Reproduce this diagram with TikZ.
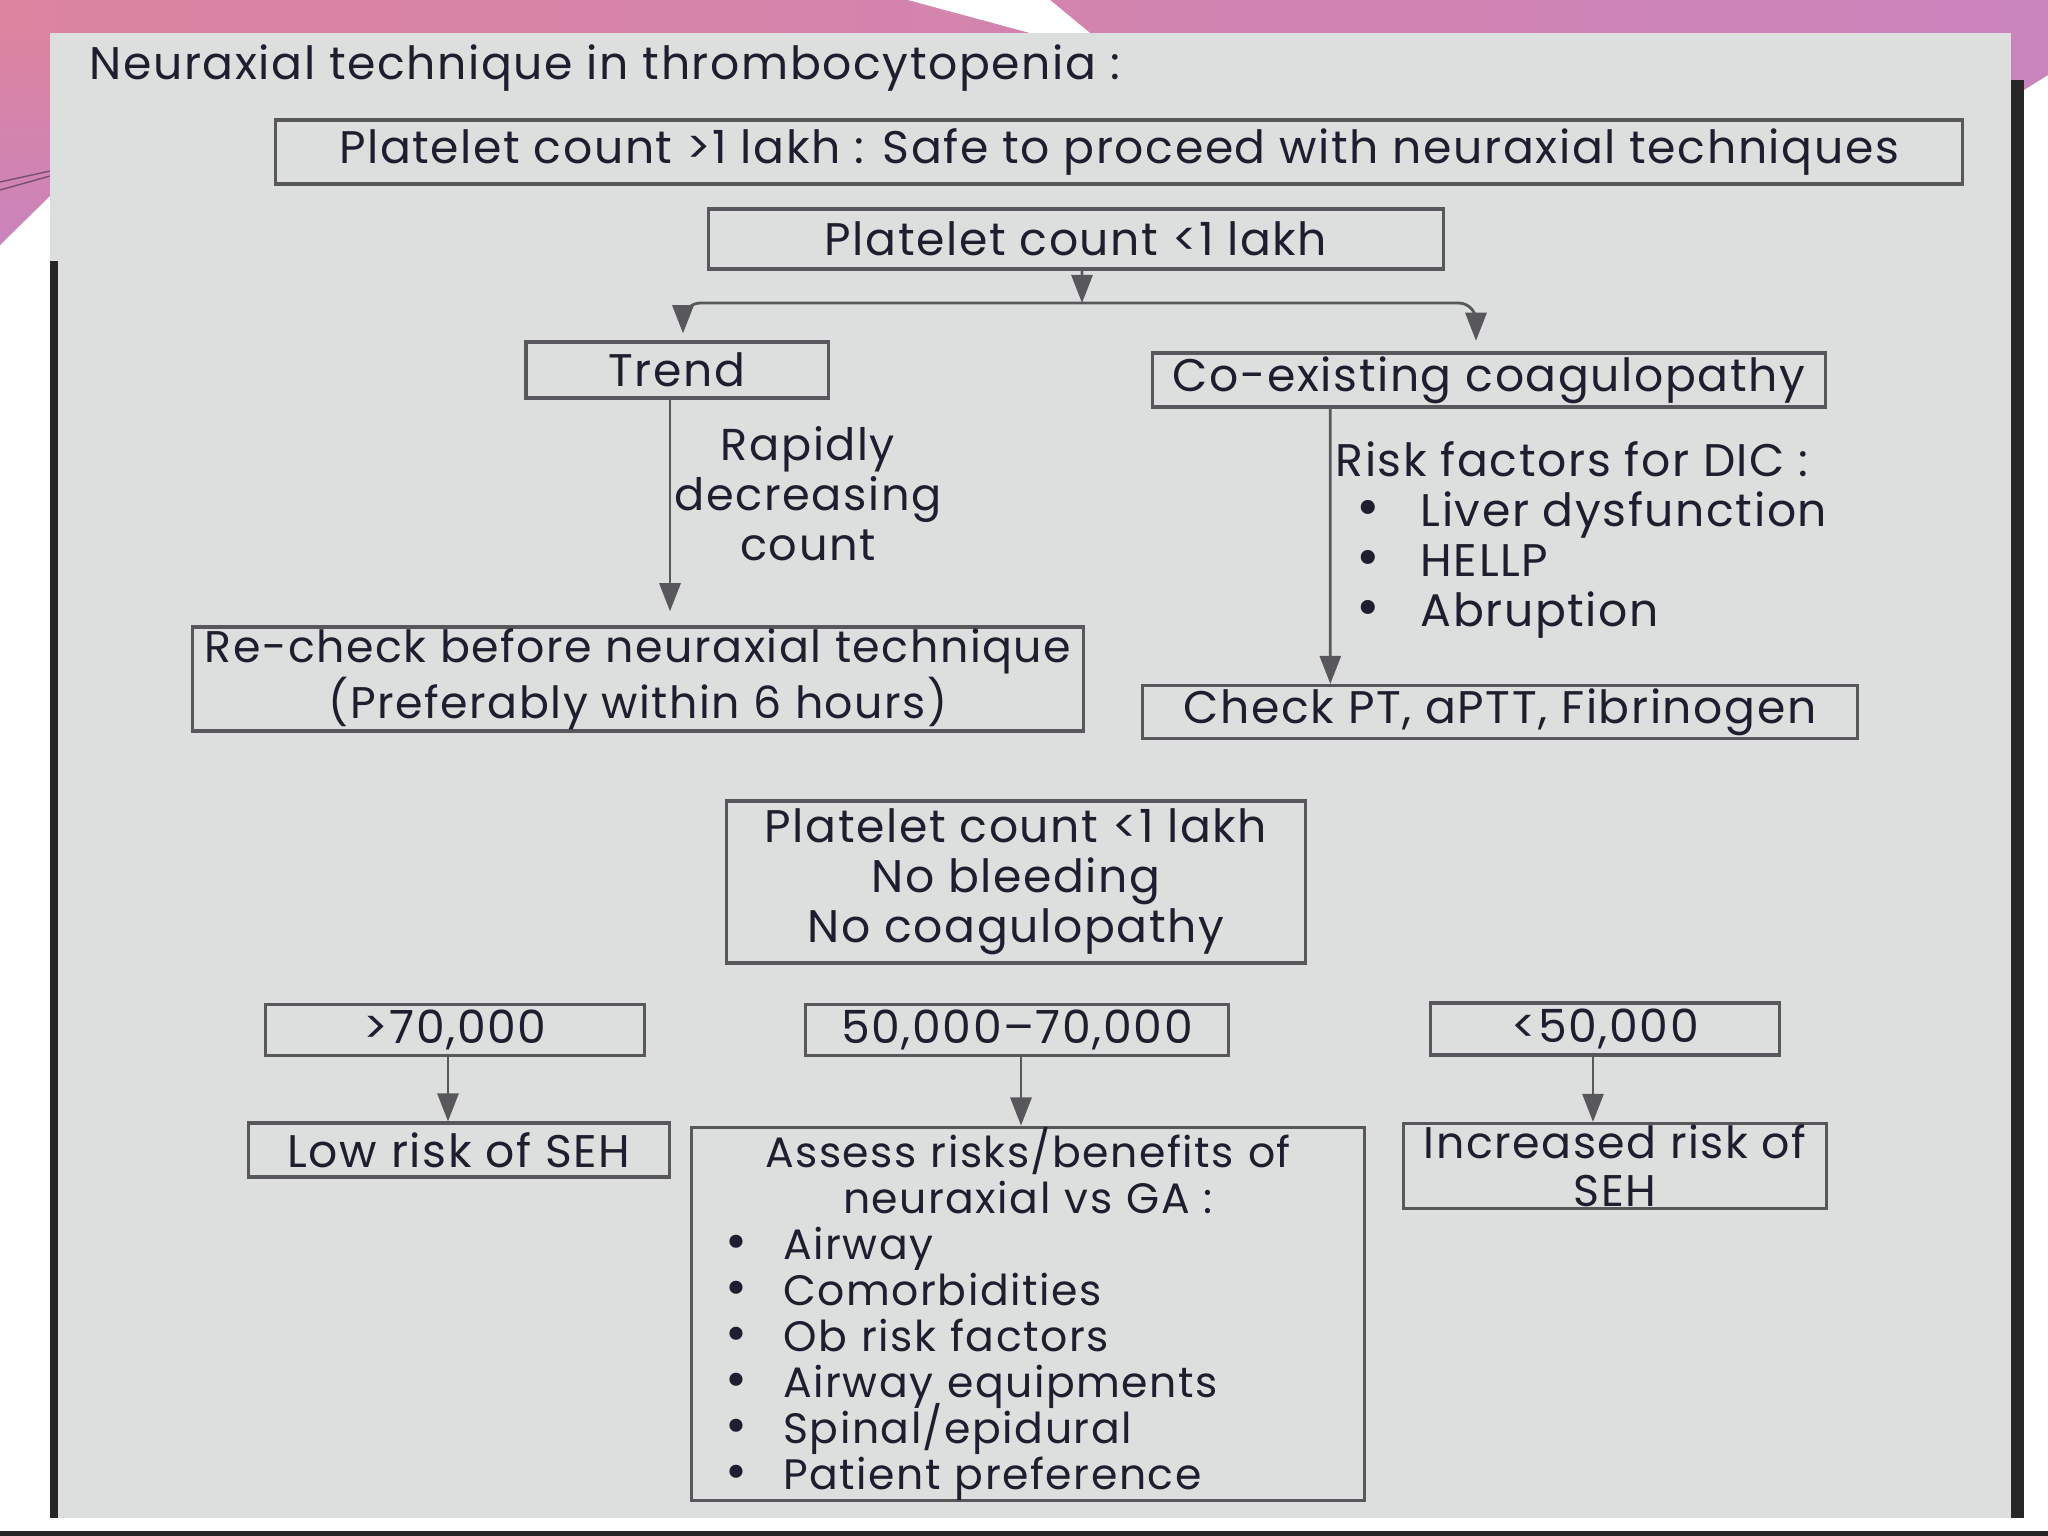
\documentclass[tikz,border=0pt]{standalone}
\usepackage{fontspec}
\setmainfont{Poppins}[LetterSpace=3.5]
\usepackage{xcolor}
\definecolor{papercolor}{RGB}{221,223,223}
\definecolor{linecolor}{RGB}{88,88,92}
\definecolor{inkcolor}{RGB}{30,30,46}
\definecolor{slidepink}{RGB}{220,132,160}
\definecolor{slidemauve}{RGB}{202,132,188}
\usetikzlibrary{arrows.meta, positioning, calc}

\newcommand{\dotrow}[3]{\hspace*{#1}\makebox[#2][l]{\scalebox{1.25}{\textbullet}}#3}

\begin{document}
\begin{tikzpicture}[x=0.01cm, y=-0.01cm,
    every node/.style={font=\fontsize{13}{14.2}\selectfont, text=inkcolor},
    flowbox/.style={rectangle, draw=linecolor, line width=0.9pt, align=center, inner sep=0pt},
    flowarrow/.style={draw=linecolor, line width=0.8pt, -{Triangle[length=8pt, width=6pt]}}
]
    % slide and photographed page
    \useasboundingbox (0,0) rectangle (2048,1536);
    \fill[white] (0,0) rectangle (2048,1536);
    \shade[left color=slidepink, right color=slidemauve] (0,0) rectangle (2048,33);
    \fill[white] (908,0) -- (1050,0) -- (1090,33) -- (1030,33) -- cycle;
    \shade[top color=slidepink, bottom color=slidemauve] (0,33) -- (50,33) -- (50,196) -- (0,245) -- cycle;
    \draw[slidemauve!60!black, line width=0.4pt] (0,182) -- (50,171) (0,190) -- (50,176);
    \fill[slidemauve] (2011,33) -- (2048,33) -- (2048,75) -- (2011,98) -- cycle;
    \fill[papercolor] (50,33) rectangle (2011,1518);
    \fill[black!85] (50,261) rectangle (58,1518);
    \fill[black!85] (2011,80) rectangle (2024,1518);
    \fill[black!85] (0,1531) rectangle (2048,1536);

    \node[anchor=west, inner sep=0pt] (title) at (89,68) {Neuraxial technique in thrombocytopenia :};

    \node[flowbox, minimum width=16.86cm, minimum height=0.64cm] (safe) at (1119,152)
        {Platelet count >1 lakh : Safe to proceed with neuraxial techniques};
    \node[flowbox, minimum width=7.34cm, minimum height=0.60cm] (below) at (1076,239)
        {Platelet count <1 lakh};
    \coordinate (fork) at (1082,303);

    \node[flowbox, minimum width=3.02cm, minimum height=0.56cm] (trend) at (677,370) {Trend};
    \node[flowbox, minimum width=6.72cm, minimum height=0.54cm] (coag) at (1489,380)
        {Co-existing coagulopathy};

    \node[align=center, inner sep=0pt, font=\fontsize{12.7}{14.2}\selectfont] (rapid) at (808,494)
        {Rapidly\\decreasing\\count};
    \node[flowbox, minimum width=8.90cm, minimum height=1.04cm, font=\fontsize{12.6}{14.6}\selectfont]
        (recheck) at (638,679)
        {Re-check before neuraxial technique\\(Preferably within 6 hours)};

    \node[align=left, anchor=west, inner sep=0pt] (dic) at (1335,540)
        {Risk factors for DIC :\\
         \dotrow{0.21cm}{0.64cm}{Liver dysfunction}\\
         \dotrow{0.21cm}{0.64cm}{HELLP}\\
         \dotrow{0.21cm}{0.64cm}{Abruption}};
    \node[flowbox, minimum width=7.14cm, minimum height=0.53cm] (check) at (1500,712)
        {Check PT, aPTT, Fibrinogen};

    \node[flowbox, minimum width=5.79cm, minimum height=1.62cm] (nobleed) at (1016,882)
        {Platelet count <1 lakh\\No bleeding\\No coagulopathy};

    \node[flowbox, minimum width=3.79cm, minimum height=0.51cm] (high) at (455,1030) {>70,000};
    \node[flowbox, minimum width=4.22cm, minimum height=0.51cm] (mid) at (1017,1030) {50,000--70,000};
    \node[flowbox, minimum width=3.48cm, minimum height=0.52cm] (low) at (1605,1029) {<50,000};

    \node[flowbox, minimum width=4.20cm, minimum height=0.54cm] (lowrisk) at (459,1150)
        {Low risk of SEH};
    \node[flowbox, minimum width=6.73cm, minimum height=3.69cm, text width=6.33cm, align=left,
        font=\fontsize{12.1}{13.1}\selectfont] (assess) at (1028,1314)
        {\lineskiplimit=-6pt\relax
         \makebox[\linewidth]{Assess risks/benefits of}\\
         \makebox[\linewidth]{neuraxial vs GA :}\\
         \dotrow{0.14cm}{0.58cm}{Airway}\\
         \dotrow{0.14cm}{0.58cm}{Comorbidities}\\
         \dotrow{0.14cm}{0.58cm}{Ob risk factors}\\
         \dotrow{0.14cm}{0.58cm}{Airway equipments}\\
         \dotrow{0.14cm}{0.58cm}{Spinal/epidural}\\
         \dotrow{0.14cm}{0.58cm}{Patient preference}};
    \node[flowbox, minimum width=4.22cm, minimum height=0.85cm, font=\fontsize{12.6}{13.7}\selectfont]
        (increased) at (1615,1166)
        {Increased risk of\\SEH};

    % connectors
    \draw[flowarrow] ([xshift=0.06cm]below.south) -- (fork);
    \draw[flowarrow, rounded corners=5pt] (fork) -| ([xshift=0.06cm, yshift=2pt]trend.north);
    \draw[flowarrow, rounded corners=5pt] (fork) -| ([xshift=-0.13cm, yshift=3pt]coag.north);
    \draw[flowarrow] ([xshift=-0.07cm]trend.south) -- ([xshift=-0.07cm, yshift=4pt]trend.south |- recheck.north);
    \draw[flowarrow] ([xshift=1.79cm]coag.south west) -- ([xshift=1.89cm]check.north west);
    \draw[flowarrow] ([xshift=-0.07cm]high.south) -- ([xshift=-0.07cm]high.south |- lowrisk.north);
    \draw[flowarrow] ([xshift=0.04cm]mid.south) -- ([xshift=0.04cm]mid.south |- assess.north);
    \draw[flowarrow] ([xshift=-0.12cm]low.south) -- ([xshift=-0.12cm]low.south |- increased.north);
\end{tikzpicture}
\end{document}
